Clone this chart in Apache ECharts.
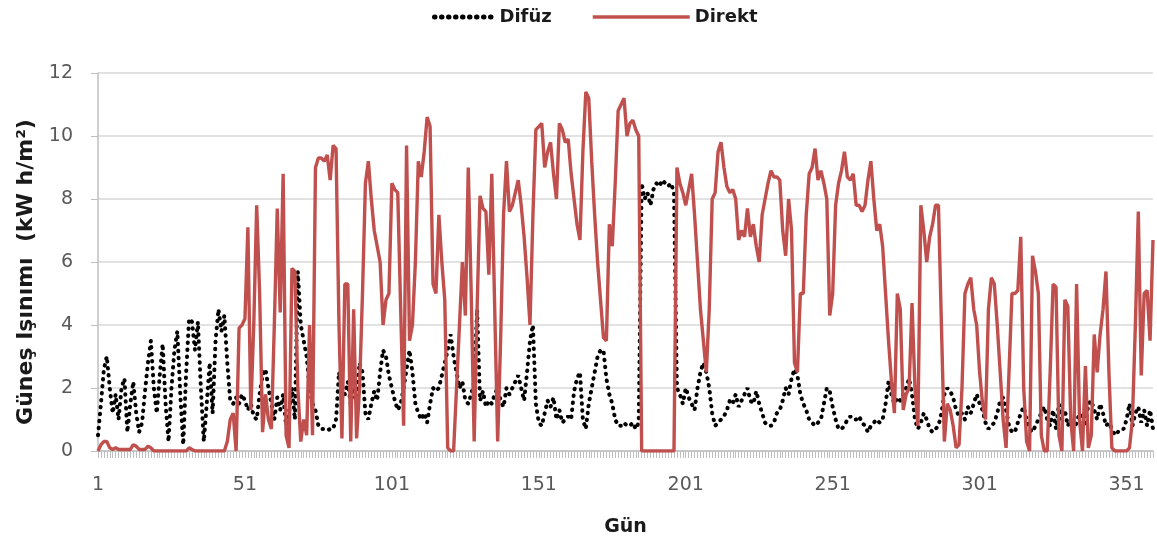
<!DOCTYPE html>
<html><head><meta charset="utf-8">
<script src="https://cdn.jsdelivr.net/npm/echarts@6/dist/echarts.min.js"></script>
<style>html,body{margin:0;padding:0;background:#fff}#c{width:1157px;height:545px}</style>
</head><body><div id="c"></div>
<script>
const difuz = [
0.5,1.5,2.6,3.0,2.0,1.2,1.8,1.0,2.0,2.3,
0.6,1.5,2.2,1.2,0.6,0.9,1.9,2.8,3.5,2.0,
1.2,2.4,3.4,1.5,0.3,2.0,3.2,3.8,1.8,0.2,
2.5,4.2,4.1,3.2,4.1,2.0,0.3,1.5,2.8,1.2,
3.5,4.5,3.8,4.3,2.8,1.6,1.5,1.7,1.5,1.8,
1.6,1.3,1.5,1.1,1.0,1.8,2.4,2.6,2.0,1.5,
1.0,1.7,1.3,1.8,0.8,1.2,2.0,1.0,5.7,4.0,
3.5,3.0,2.0,1.5,1.3,0.8,0.7,0.7,0.65,0.7,
0.7,1.0,2.5,2.0,1.8,2.2,1.5,2.0,1.7,2.8,
2.5,1.2,1.0,1.5,1.9,1.6,2.5,3.2,3.0,2.4,
2.0,1.6,1.3,1.5,2.0,2.6,3.2,2.5,1.5,1.2,
1.0,1.2,0.9,1.5,2.0,1.9,2.0,2.4,2.8,3.2,
3.7,3.0,2.5,2.0,2.2,1.6,1.5,1.8,2.2,4.5,
1.6,1.9,1.4,1.6,1.5,1.8,2.0,1.6,1.4,2.0,
1.8,2.0,2.2,2.4,2.0,1.6,2.5,3.5,4.0,1.5,
0.9,0.8,1.2,1.6,1.4,1.7,1.0,1.3,0.9,1.0,
1.1,1.0,1.9,2.3,2.5,1.0,0.7,1.5,2.0,2.5,
3.0,3.2,3.2,2.3,1.8,1.5,1.0,0.8,0.8,0.9,
0.8,0.8,0.9,0.7,0.9,8.5,8.0,8.2,7.8,8.3,
8.5,8.4,8.6,8.5,8.4,8.5,8.2,2.0,1.8,1.5,
2.0,1.7,1.5,1.3,2.0,2.5,2.8,2.5,2.0,1.2,
0.8,0.9,1.0,1.1,1.3,1.6,1.5,1.8,1.4,1.6,
1.8,2.0,1.6,1.5,1.9,1.5,1.2,0.9,0.8,0.8,
0.9,1.2,1.3,1.6,2.0,1.8,2.3,2.6,2.4,1.8,
1.5,1.3,1.0,0.9,0.8,0.9,1.0,1.5,2.0,1.9,
1.4,1.0,0.7,0.7,0.8,1.0,1.1,1.0,1.0,1.1,
0.9,0.8,0.6,0.8,0.9,1.0,0.9,1.0,1.5,2.2,
1.8,1.5,1.7,1.6,1.8,2.0,2.3,1.8,1.0,0.7,
0.9,1.2,1.0,0.7,0.6,0.7,0.8,1.2,1.8,2.0,
1.9,1.7,1.3,1.1,1.2,1.0,1.4,1.2,1.5,1.8,
1.5,1.3,0.9,0.7,0.8,0.9,1.2,1.6,1.7,1.3,
0.8,0.6,0.6,0.9,1.2,1.4,1.0,0.7,0.6,0.8,
1.0,1.2,1.4,1.0,0.8,1.3,0.7,1.5,1.0,1.3,
0.8,1.0,0.7,0.9,1.2,1.0,0.8,1.5,1.6,1.3,
1.0,1.5,1.2,0.8,0.9,0.7,0.5,0.6,0.7,0.7,
1.0,1.5,0.8,1.2,1.4,0.9,1.3,0.8,1.3,0.7
];
const direkt = [
0,0.2,0.3,0.3,0.1,0.05,0.1,0.05,0.05,0.05,
0.05,0.05,0.2,0.15,0.05,0.05,0.05,0.15,0.1,0,
0,0,0,0,0,0,0,0,0,0,
0,0.1,0.05,0,0,0,0,0,0,0,
0,0,0,0,0.3,1.0,1.2,0.0,3.9,4.0,
4.2,7.1,1.3,4.0,7.8,5.0,0.6,1.8,1.0,0.7,
4.0,7.7,4.4,8.8,0.5,0.1,5.8,5.7,2.0,0.3,
1.0,0.5,4.0,0.5,9.0,9.3,9.3,9.2,9.4,8.6,
9.7,9.6,4.0,0.4,5.3,5.3,0.3,4.5,0.4,2.0,
5.0,8.5,9.2,8.0,7.0,6.5,6.0,4.0,4.8,5.0,
8.5,8.3,8.2,4.5,0.8,9.7,3.5,4.0,6.0,9.2,
8.7,9.5,10.6,10.3,5.3,5.0,7.5,6.0,4.8,0.1,
0.0,0.0,2.0,4.0,6.0,4.3,9.0,5.0,0.3,4.5,
8.1,7.7,7.6,5.6,8.8,4.5,0.3,3.5,7.5,9.2,
7.6,7.8,8.2,8.6,7.8,6.8,5.5,4.0,7.5,10.2,
10.3,10.4,9.0,9.5,9.8,8.8,8.0,10.4,10.2,9.8,
9.9,8.8,8.0,7.2,6.7,9.5,11.4,11.2,9.2,7.5,
6.0,4.8,3.6,3.5,7.2,6.5,8.5,10.8,11.0,11.2,
10.0,10.4,10.5,10.2,10.0,0,0,0,0,0,
0,0,0,0,0,0,0,9.0,8.5,8.2,
7.8,8.3,8.8,7.5,6.0,4.5,3.5,2.5,4.5,8.0,
8.2,9.5,9.8,9.0,8.4,8.2,8.3,8.0,6.7,7.0,
6.8,7.7,6.8,7.2,6.5,6.0,7.5,8.0,8.5,8.9,
8.7,8.7,8.6,7.0,6.2,8.0,7.0,2.8,2.5,5.0,
5.0,7.5,8.8,9.0,9.6,8.6,8.9,8.5,8.0,4.3,
5.0,7.8,8.5,8.9,9.5,8.7,8.6,8.8,7.8,7.8,
7.6,7.8,8.6,9.2,8.0,7.0,7.2,6.5,5.0,3.5,
2.2,1.2,5.0,4.5,1.3,1.8,2.0,4.7,2.0,0.8,
7.8,7.0,6.0,6.8,7.2,7.8,7.8,4.0,0.3,1.5,
1.3,0.8,0.1,0.2,2.0,5.0,5.3,5.5,4.5,4.0,
2.5,1.5,1.0,4.5,5.5,5.3,4.0,2.5,1.0,0.1,
2.5,5.0,5.0,5.1,6.8,2.0,0.3,0.0,6.2,5.7,
5.0,0.5,0.0,0.0,2.5,5.3,5.2,0.5,0.0,4.8,
4.6,1.0,0.0,5.3,1.0,0.0,2.7,0.1,0.5,3.7,
2.5,3.7,4.5,5.7,2.5,0.1,0.0,0.0,0.0,0.0,
0.0,0.1,1.0,4.0,7.6,2.4,5.0,5.1,3.5,6.7
];
const seriesNames = ['Difüz', 'Direkt'];
const days = [];
for (let i = 1; i <= direkt.length; i++) days.push(String(i));
const yTicks = [0, 2, 4, 6, 8, 10, 12];

const chart = echarts.init(document.getElementById('c'), null, {renderer: 'canvas'});
const FONT = '"DejaVu Sans", sans-serif';
const legendText = {fontFamily: FONT, fontWeight: 'bold', fontSize: 18, color: '#1a1a1a'};
chart.setOption({
  animation: false,
  backgroundColor: '#ffffff',
  grid: {left: 98, right: 4, top: 73, bottom: 94, containLabel: false},
  legend: [
    {data: [seriesNames[0]], left: 427, top: 3, itemWidth: 60, itemHeight: 18,
     itemStyle: {opacity: 0}, textStyle: legendText,
     lineStyle: {width: 5}},
    {data: [seriesNames[1]], left: 586, top: 3, itemWidth: 97, itemHeight: 18,
     itemStyle: {opacity: 0}, textStyle: legendText,
     lineStyle: {width: 3.5}}
  ],
  xAxis: {
    type: 'category', data: days, boundaryGap: false,
    name: 'Gün', nameLocation: 'middle', nameGap: 67,
    nameTextStyle: {fontFamily: FONT, fontWeight: 'bold', fontSize: 19, color: '#1a1a1a'},
    axisLine: {lineStyle: {color: '#bfbfbf', width: 1.5}},
    axisTick: {show: true, interval: 0, length: 7, lineStyle: {color: '#bfbfbf', width: 1}},
    axisLabel: {interval: 49, margin: 25, fontFamily: FONT, fontSize: 19, color: '#595959'},
    splitLine: {show: false}
  },
  yAxis: {
    type: 'value', min: yTicks[0], max: yTicks[yTicks.length - 1], interval: 2,
    name: 'Güneş Işınımı  (kW h/m²)', nameLocation: 'middle', nameGap: 61, nameRotate: 90,
    nameTextStyle: {fontFamily: FONT, fontWeight: 'bold', fontSize: 22, color: '#1a1a1a',
                    padding: [0, 20, 0, 0]},
    axisLine: {show: true, lineStyle: {color: '#bfbfbf', width: 1.5}},
    axisTick: {show: true, length: 7, lineStyle: {color: '#bfbfbf'}},
    axisLabel: {margin: 25, fontFamily: FONT, fontSize: 19, color: '#595959'},
    splitLine: {lineStyle: {color: '#d9d9d9', width: 1.5}}
  },
  series: [
    {name: seriesNames[0], type: 'line', data: difuz, symbol: 'none', showSymbol: false,
     lineStyle: {color: '#000000', width: 4, type: [0.5, 6.5], cap: 'round'},
     itemStyle: {color: '#000000'}, z: 2},
    {name: seriesNames[1], type: 'line', data: direkt, symbol: 'none', showSymbol: false,
     lineStyle: {color: '#c0504d', width: 3.4}, itemStyle: {color: '#c0504d'}, z: 3}
  ]
});
</script></body></html>
